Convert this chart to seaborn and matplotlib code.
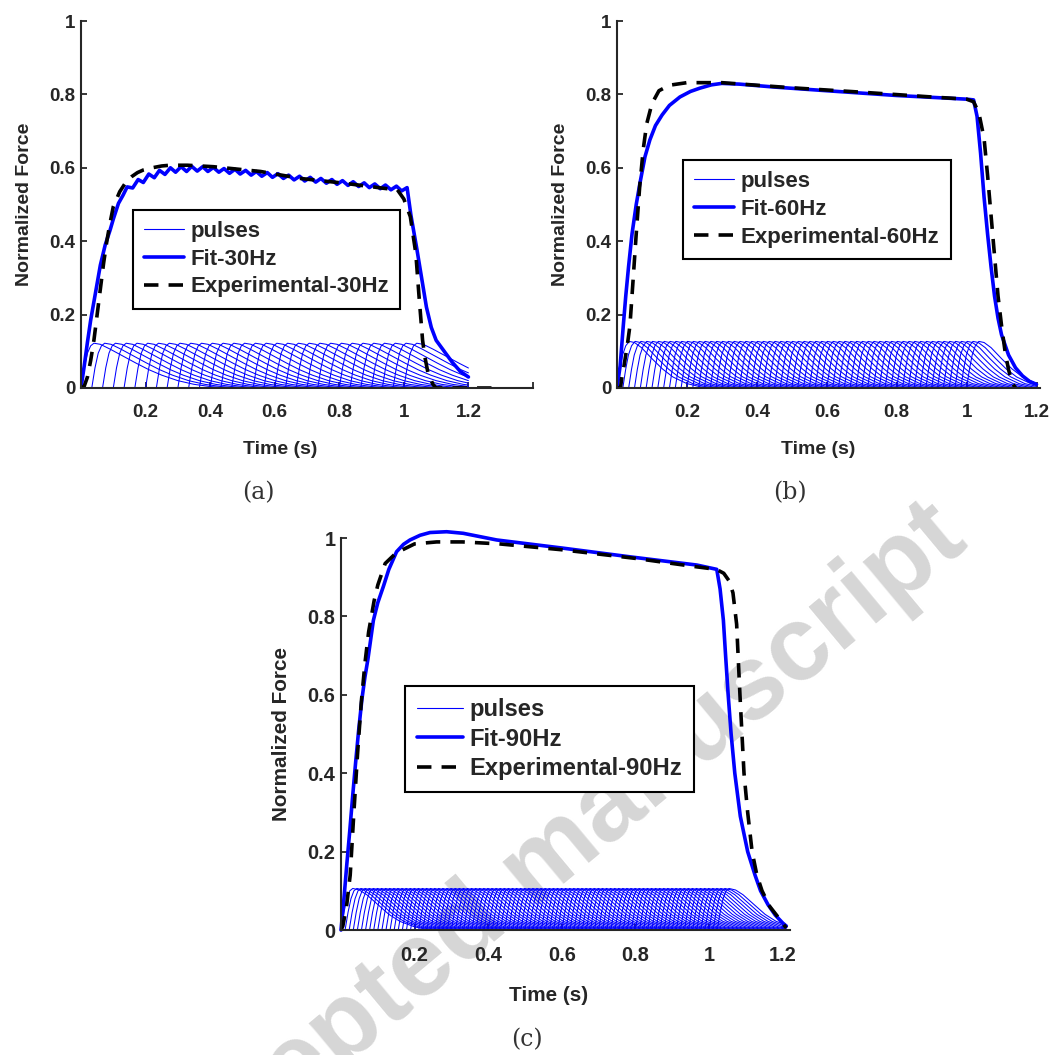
"""
Normalized force: fitted pulse trains vs experiment (30/60/90 Hz)
"""

import numpy as np
import pandas as pd
import matplotlib
matplotlib.use("Agg")
import matplotlib.pyplot as plt
from matplotlib.lines import Line2D
import seaborn as sns

sns.set_style("ticks")
plt.rcParams["font.family"] = ["Liberation Sans", "DejaVu Sans"]
plt.rcParams["font.weight"] = "bold"

# ---- data ----
# single-pulse response shape (time after stimulus, force)
pulse_t_a = [0, 0.01, 0.02, 0.03, 0.04, 0.06, 0.09, 0.13, 0.17, 0.21, 0.25, 0.3, 0.35, 0.4, 0.45]
pulse_f_a = [0, 0.055, 0.095, 0.115, 0.122, 0.119, 0.106, 0.087, 0.068, 0.05, 0.035, 0.02, 0.01, 0.004, 0]
pulse_t_b = [0, 0.008, 0.016, 0.025, 0.035, 0.05, 0.07, 0.1, 0.13, 0.16, 0.2, 0.24, 0.28]
pulse_f_b = [0, 0.05, 0.09, 0.115, 0.127, 0.124, 0.11, 0.08, 0.052, 0.03, 0.012, 0.003, 0]
pulse_t_c = [0, 0.008, 0.016, 0.024, 0.032, 0.05, 0.07, 0.1, 0.13, 0.16, 0.2, 0.24]
pulse_f_c = [0, 0.045, 0.08, 0.1, 0.106, 0.102, 0.09, 0.065, 0.04, 0.022, 0.008, 0]

# stimulation trains: frequency (Hz), number of pulses, simulation end (s)
stim_hz = [30, 60, 90]
n_pulses = [31, 61, 93]
t_end = [1.2, 1.2, 1.21]

fit_a_t = [0, 0.01, 0.02, 0.03, 0.04, 0.05, 0.06, 0.075, 0.09, 0.1, 0.116, 0.13,
           0.143, 0.16, 0.177, 0.193, 0.21, 0.227, 0.243, 0.26, 0.277, 0.293,
           0.31, 0.327, 0.343, 0.36, 0.377, 0.393, 0.41, 0.427, 0.443, 0.46,
           0.477, 0.493, 0.51, 0.527, 0.543, 0.56, 0.577, 0.593, 0.61, 0.627,
           0.643, 0.66, 0.677, 0.693, 0.71, 0.727, 0.743, 0.76, 0.777, 0.793,
           0.81, 0.827, 0.843, 0.86, 0.877, 0.893, 0.91, 0.927, 0.943, 0.96,
           0.977, 0.993, 1.01, 1.022, 1.04, 1.055, 1.07, 1.085, 1.1, 1.125,
           1.15, 1.175, 1.2]
fit_a_f = [0, 0.06, 0.125, 0.185, 0.235, 0.285, 0.335, 0.39, 0.43, 0.46, 0.503, 0.525,
           0.548, 0.545, 0.568, 0.56, 0.583, 0.573, 0.593, 0.582, 0.6, 0.588,
           0.603, 0.59, 0.604, 0.591, 0.603, 0.59, 0.601, 0.588, 0.598, 0.585,
           0.596, 0.583, 0.593, 0.58, 0.59, 0.577, 0.587, 0.574, 0.584, 0.571,
           0.58, 0.567, 0.577, 0.564, 0.574, 0.561, 0.571, 0.558, 0.568, 0.555,
           0.565, 0.552, 0.562, 0.549, 0.559, 0.546, 0.556, 0.543, 0.553, 0.54,
           0.55, 0.537, 0.546, 0.47, 0.38, 0.3, 0.22, 0.165, 0.13, 0.1,
           0.07, 0.045, 0.03]
exp_a_t = [0, 0.01, 0.02, 0.03, 0.04, 0.05, 0.06, 0.07, 0.08, 0.09, 0.1, 0.12, 0.14,
           0.157, 0.175, 0.193, 0.22, 0.25, 0.276, 0.33, 0.41, 0.556, 0.68, 0.815,
           0.939, 0.98, 1.0, 1.02, 1.037, 1.047, 1.058, 1.065, 1.075, 1.09, 1.1, 1.3]
exp_a_f = [0, 0.005, 0.03, 0.075, 0.13, 0.2, 0.27, 0.34, 0.4, 0.45, 0.494, 0.535, 0.562,
           0.576, 0.587, 0.594, 0.6, 0.605, 0.607, 0.607, 0.603, 0.59, 0.571, 0.558,
           0.544, 0.54, 0.515, 0.467, 0.367, 0.25, 0.13, 0.085, 0.04, 0.01, 0, 0]

fit_b_t = [0, 0.009, 0.018, 0.025, 0.033, 0.043, 0.055, 0.066, 0.08, 0.094, 0.11, 0.129,
           0.15, 0.18, 0.21, 0.237, 0.27, 0.3, 0.35, 0.45, 0.6, 0.8, 1.0, 1.02, 1.03,
           1.04, 1.05, 1.06, 1.07, 1.08, 1.09, 1.1, 1.12, 1.14, 1.16, 1.18, 1.2]
fit_b_f = [0, 0.06, 0.17, 0.25, 0.33, 0.42, 0.5, 0.56, 0.63, 0.676, 0.715, 0.744,
           0.77, 0.793, 0.808, 0.817, 0.826, 0.83, 0.828, 0.82, 0.81, 0.797, 0.787, 0.785, 0.74,
           0.64, 0.52, 0.42, 0.33, 0.25, 0.19, 0.145, 0.09, 0.055, 0.033, 0.018, 0.01]
exp_b_t = [0, 0.01, 0.014, 0.02, 0.03, 0.037, 0.045, 0.055, 0.065, 0.075, 0.085, 0.1,
           0.12, 0.15, 0.2, 0.3, 0.5, 0.7, 0.9, 1.0, 1.02, 1.035, 1.05, 1.06, 1.07,
           1.08, 1.09, 1.1, 1.11, 1.12, 1.13, 1.14]
exp_b_f = [0, 0, 0.03, 0.06, 0.12, 0.17, 0.28, 0.42, 0.55, 0.65, 0.72, 0.775,
           0.81, 0.825, 0.832, 0.832, 0.818, 0.806, 0.793, 0.787, 0.78, 0.75, 0.68, 0.58, 0.47,
           0.36, 0.25, 0.17, 0.1, 0.05, 0.015, 0]

fit_c_t = [0, 0.008, 0.016, 0.024, 0.032, 0.04, 0.048, 0.057, 0.065, 0.073, 0.088, 0.1,
           0.115, 0.13, 0.151, 0.17, 0.1875, 0.215, 0.242, 0.287, 0.332, 0.423, 0.604,
           0.785, 0.967, 1.021, 1.03, 1.039, 1.045, 1.052, 1.06, 1.07, 1.085, 1.105,
           1.125, 1.14, 1.16, 1.18, 1.2, 1.21]
fit_c_f = [0, 0.08, 0.17, 0.255, 0.345, 0.43, 0.51, 0.59, 0.645, 0.69, 0.79, 0.835,
           0.876, 0.92, 0.965, 0.984, 0.995, 1.007, 1.014, 1.016, 1.012, 0.995, 0.974,
           0.952, 0.931, 0.92, 0.87, 0.79, 0.7, 0.6, 0.5, 0.4, 0.29, 0.2,
           0.14, 0.1, 0.065, 0.038, 0.018, 0.01]
exp_c_t = [0, 0.005, 0.015, 0.025, 0.035, 0.045, 0.055, 0.065, 0.075, 0.09, 0.1, 0.12,
           0.15, 0.2, 0.26, 0.33, 0.43, 0.6, 0.8, 0.97, 1.02, 1.04, 1.055, 1.065, 1.075,
           1.084, 1.095, 1.105, 1.117, 1.13, 1.144, 1.165, 1.19, 1.21]
exp_c_f = [0, 0.01, 0.06, 0.14, 0.3, 0.45, 0.58, 0.68, 0.76, 0.84, 0.88, 0.935,
           0.962, 0.985, 0.99, 0.99, 0.985, 0.97, 0.948, 0.926, 0.92, 0.91, 0.89, 0.86, 0.78,
           0.6, 0.4, 0.3, 0.2, 0.14, 0.1, 0.06, 0.03, 0.005]

y_ticks = [0, 0.2, 0.4, 0.6, 0.8, 1.0]
y_ticklabels = ["0", "0.2", "0.4", "0.6", "0.8", "1"]
x_ticklabels = ["0.2", "0.4", "0.6", "0.8", "1", "1.2"]


def pulse_table(freq, count, tmpl_t, tmpl_f, end):
    """Each stimulus gives one copy of the pulse shape, zero before and after."""
    rows = []
    for k in range(count):
        t0 = k / freq
        xs = [0.0] + [t0 + dt for dt in tmpl_t]
        ys = [0.0] + list(tmpl_f)
        if xs[-1] < end:
            xs.append(end)
            ys.append(0.0)
        else:
            y_end = float(np.interp(end, xs, ys))
            keep = [i for i, x in enumerate(xs) if x < end]
            xs = [xs[i] for i in keep] + [end]
            ys = [ys[i] for i in keep] + [y_end]
        rows += [(k, x, y) for x, y in zip(xs, ys)]
    return pd.DataFrame(rows, columns=["pulse", "t", "f"])


def draw_panel(ax, pulses, fit_t, fit_f, exp_t, exp_f, hz, xmax, xticks, leg_anchor,
               xlabel_pos, clip=True, scale=1.0):
    ax.set_facecolor("none")
    sns.lineplot(data=pulses, x="t", y="f", units="pulse", estimator=None, sort=False,
                 color="#0000ff", lw=0.75, ax=ax)
    sns.lineplot(x=fit_t, y=fit_f, estimator=None, sort=False, color="#0000ff", lw=2.6, ax=ax)
    ax.lines[-1].set_clip_on(clip)
    sns.lineplot(x=exp_t, y=exp_f, estimator=None, sort=False, color="black", lw=2.6, ax=ax)
    ax.lines[-1].set_dashes((4, 2.8))

    ax.set_xlim(0, xmax)
    ax.set_ylim(0, 1)
    ax.set_xticks(xticks)
    ax.set_xticklabels(x_ticklabels + [""] * (len(xticks) - len(x_ticklabels)))
    ax.set_yticks(y_ticks)
    ax.set_yticklabels(y_ticklabels)
    sns.despine(ax=ax)
    for side in ["left", "bottom"]:
        ax.spines[side].set_linewidth(1.5)
    ax.tick_params(direction="in", length=4, width=1.3, labelsize=13.5 * scale)
    ax.tick_params(axis="x", pad=11.5)
    ax.tick_params(axis="y", pad=4)
    ax.set_xlabel("Time (s)", fontsize=14 * scale, fontweight="bold")
    ax.xaxis.set_label_coords(*xlabel_pos)
    ax.set_ylabel("Normalized Force", fontsize=14 * scale, fontweight="bold", labelpad=12)

    handles = [
        Line2D([], [], color="#0000ff", lw=0.8),
        Line2D([], [], color="#0000ff", lw=2.6),
        Line2D([], [], color="black", lw=2.6, dashes=(4, 2.8)),
    ]
    labels = ["pulses", f"Fit-{hz}Hz", f"Experimental-{hz}Hz"]
    leg = ax.legend(handles, labels, loc="upper left", bbox_to_anchor=leg_anchor,
                    borderaxespad=0, fancybox=False, framealpha=1, edgecolor="black",
                    prop={"size": 16 * scale, "weight": "bold"}, handlelength=1.8 * scale,
                    handletextpad=0.3, labelspacing=0.3 / scale, borderpad=0.5)
    leg.get_frame().set_linewidth(1.5)


fig = plt.figure(figsize=(10.49, 10.55), dpi=100)
W, H = 1049, 1055
ax_a = fig.add_axes([81 / W, 1 - 388 / H, 452 / W, 367 / H])
ax_b = fig.add_axes([617 / W, 1 - 388 / H, 423 / W, 367 / H])
ax_c = fig.add_axes([341 / W, 1 - 930 / H, 449 / W, 392 / H])

pulses_a = pulse_table(stim_hz[0], n_pulses[0], pulse_t_a, pulse_f_a, t_end[0])
pulses_b = pulse_table(stim_hz[1], n_pulses[1], pulse_t_b, pulse_f_b, t_end[1])
pulses_c = pulse_table(stim_hz[2], n_pulses[2], pulse_t_c, pulse_f_c, t_end[2])

draw_panel(ax_a, pulses_a, fit_a_t, fit_a_f, exp_a_t, exp_a_f, stim_hz[0], 1.4,
           [0.2, 0.4, 0.6, 0.8, 1.0, 1.2, 1.4], (0.115, 0.485), (0.44, -0.144))
draw_panel(ax_b, pulses_b, fit_b_t, fit_b_f, exp_b_t, exp_b_f, stim_hz[1], 1.21,
           [0.2, 0.4, 0.6, 0.8, 1.0, 1.2], (0.156, 0.621), (0.475, -0.144))
draw_panel(ax_c, pulses_c, fit_c_t, fit_c_f, exp_c_t, exp_c_f, stim_hz[2], 1.22,
           [0.2, 0.4, 0.6, 0.8, 1.0, 1.2], (0.1425, 0.622), (0.463, -0.143),
           clip=False, scale=1.07)

for x, y, s in [(258, 493, "(a)"), (790, 493, "(b)"), (527, 1040, "(c)")]:
    fig.text(x / W, 1 - y / H, s, ha="center", va="center", fontsize=17,
             family="DejaVu Serif", fontweight="normal", color="#333333")

# watermark of the manuscript page (runs off the page, as in the source)
fig.text(540 / W, 1 - 868 / H, "Accepted manuscript", rotation=39.8, rotation_mode="anchor",
         ha="center", va="center", fontsize=76, fontweight="bold", color="#d6d6d6", zorder=-1)

fig.savefig("out.png", dpi=100, facecolor="white")
plt.close()
